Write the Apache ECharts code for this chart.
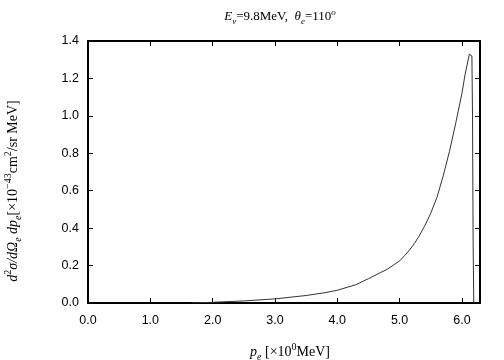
<!DOCTYPE html>
<html>
<head>
<meta charset="utf-8">
<script src="https://cdn.jsdelivr.net/npm/echarts@6/dist/echarts.min.js"></script>
<style>
html, body { margin: 0; padding: 0; background: #fff; }
#chart { width: 504px; height: 360px; }
</style>
</head>
<body>
<div id="chart"></div>
<script>
// 数据: 电子动量 p_e 与微分截面
var momentum = [1.66, 2.0, 2.5, 3.0, 3.5, 3.8, 4.0, 4.3, 4.5, 4.8, 5.0, 5.1, 5.2, 5.3, 5.4, 5.5, 5.6, 5.7, 5.8, 5.9, 6.0, 6.05, 6.12, 6.16, 6.17, 6.18, 6.19];
var crossSection = [0, 0.004, 0.011, 0.022, 0.04, 0.055, 0.068, 0.098, 0.13, 0.18, 0.225, 0.26, 0.3, 0.35, 0.41, 0.48, 0.565, 0.68, 0.81, 0.96, 1.12, 1.22, 1.33, 1.32, 1.0, 0.3, 0];
var xTicks = [0, 1, 2, 3, 4, 5, 6];
var yTicks = [0, 0.2, 0.4, 0.6, 0.8, 1.0, 1.2, 1.4];

var points = [];
for (var i = 0; i < momentum.length; i++) {
	points.push([momentum[i], crossSection[i]]);
}

var serif = '"Liberation Serif", "DejaVu Serif", serif';
var sans = '"Liberation Sans", Arial, sans-serif';

var myChart = echarts.init(document.getElementById('chart'));

function frameAxis(extra) {
	var base = {
		type: 'value',
		axisLine: { show: true, onZero: false, lineStyle: { color: '#000', width: 2 } },
		axisTick: { show: true, inside: true, length: 5, lineStyle: { color: '#000', width: 1 } },
		splitLine: { show: false }
	};
	for (var k in extra) base[k] = extra[k];
	return base;
}

var richText = {
	i: { fontFamily: serif, fontStyle: 'italic', fontSize: 14, lineHeight: 20 },
	n: { fontFamily: serif, fontSize: 14, lineHeight: 20 },
	sub: { fontFamily: serif, fontStyle: 'italic', fontSize: 10, verticalAlign: 'bottom', lineHeight: 20 },
	sup: { fontFamily: serif, fontSize: 10, verticalAlign: 'top', lineHeight: 20 }
};

var option = {
	animation: false,
	backgroundColor: '#fff',
	grid: { left: 88, right: 24, top: 41, bottom: 57 },
	xAxis: [
		frameAxis({
			position: 'bottom', min: 0, max: 6.29, interval: 1,
			axisLabel: {
				margin: 11, color: '#000', fontFamily: sans, fontSize: 12.5, showMaxLabel: false,
				formatter: function(v) { return xTicks.indexOf(v) >= 0 ? v.toFixed(1) : ''; }
			}
		}),
		frameAxis({
			position: 'top', min: 0, max: 6.29, interval: 1,
			axisLabel: { show: false }
		})
	],
	yAxis: [
		frameAxis({
			position: 'left', min: 0, max: 1.4, interval: 0.2,
			axisLabel: {
				margin: 9, color: '#000', fontFamily: sans, fontSize: 12.5,
				formatter: function(v) { return v.toFixed(1); }
			}
		}),
		frameAxis({
			position: 'right', min: 0, max: 1.4, interval: 0.2,
			axisLabel: { show: false }
		})
	],
	series: [{
		type: 'line',
		data: points,
		showSymbol: false,
		smooth: false,
		lineStyle: { color: '#333', width: 1 },
		itemStyle: { color: '#333' }
	}],
	graphic: [
		{
			type: 'text',
			x: 280, y: 17,
			style: {
				text: '{i|E}{sub|ν}{n|=9.8MeV,  }{i|θ}{sub|e}{n|=110}{sup|o}',
				align: 'center',
				verticalAlign: 'middle',
				rich: {
					i: { fontFamily: serif, fontStyle: 'italic', fontSize: 13, lineHeight: 18 },
					n: { fontFamily: serif, fontSize: 13, lineHeight: 18 },
					sub: { fontFamily: serif, fontStyle: 'italic', fontSize: 9, verticalAlign: 'bottom', lineHeight: 18 },
					sup: { fontFamily: serif, fontStyle: 'italic', fontSize: 9, verticalAlign: 'top', lineHeight: 18 }
				},
				fill: '#000'
			}
		},
		{
			type: 'text',
			x: 13, y: 191,
			rotation: Math.PI / 2,
			style: {
				text: '{i|d}{sup|2}{i|σ/dΩ}{sub|e}{n| }{i|dp}{sub|e}{n|[×10}{sup|−43}{n|cm}{sup|2}{n|/sr MeV]}',
				align: 'center',
				verticalAlign: 'middle',
				rich: richText,
				fill: '#000'
			}
		},
		{
			type: 'text',
			x: 290, y: 352,
			style: {
				text: '{i|p}{sub|e}{n| [×10}{sup|0}{n|MeV]}',
				align: 'center',
				verticalAlign: 'middle',
				rich: richText,
				fill: '#000'
			}
		}
	]
};

myChart.setOption(option);
</script>
</body>
</html>
